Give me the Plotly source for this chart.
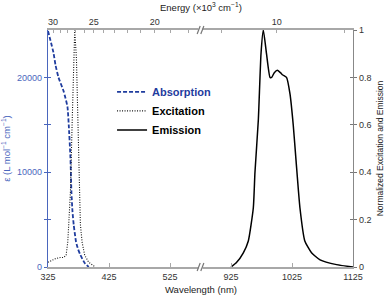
import plotly.graph_objects as go

# ---- data ----
abs_wl = [325, 334, 337.3, 342.2, 350.8, 356.9, 359, 361.8, 363.4, 365.2, 367.2, 371, 374.5, 378.1, 385.1, 391.7]
abs_eps = [24900, 22600, 21300, 20000, 18500, 16900, 15000, 11500, 7900, 5800, 4430, 2640, 1850, 1270, 420, 0]

exc_wl = [325, 337, 345, 350.8, 354.7, 357.4, 359, 361.8, 364.5, 367.2, 368.8, 371.6, 374.3, 376.5, 378.1, 380.9, 385.1, 391.7, 402.6]
exc_val = [0.02, 0.035, 0.04, 0.04, 0.05, 0.105, 0.18, 0.32, 0.60, 0.88, 1.0, 0.88, 0.60, 0.32, 0.18, 0.105, 0.05, 0.02, 0.0]

em_wl = [925, 934.3, 945.2, 953.4, 961.6, 964.3, 969.8, 974.2, 978, 983.2, 989, 991.7, 996, 1000.9, 1006, 1010, 1016, 1021.7, 1027, 1031.6, 1038, 1046, 1057, 1071, 1098, 1125]
em_val = [0.0, 0.02, 0.06, 0.11, 0.25, 0.40, 0.62, 0.90, 1.0, 0.90, 0.80, 0.80, 0.82, 0.83, 0.82, 0.81, 0.80, 0.73, 0.60, 0.45, 0.25, 0.11, 0.06, 0.03, 0.01, 0.0]

energy_left = list(range(30, 17, -1))   # x10^3 cm^-1
energy_right = [11, 10, 9]
energy_labels = {30: "30", 25: "25", 20: "20", 10: "10"}

wl_ticks_left = [325, 425, 525]
wl_ticks_right = [925, 1025, 1125]
eps_ticks = [0, 5000, 10000, 15000, 20000]
eps_labels = ["0", "", "10000", "", "20000"]
norm_ticks = [0, 0.2, 0.4, 0.6, 0.8, 1.0]
norm_labels = ["0", "0.2", "0.4", "0.6", "0.8", "1"]

BLUE = "#1f3c9e"
AXBLUE = "#4a66bd"
GRAY = "#a8a8a8"
FONT = "Arial, Liberation Sans, sans-serif"

fig = go.Figure()
fig.add_trace(go.Scatter(x=abs_wl, y=abs_eps, mode="lines", xaxis="x", yaxis="y",
                         line=dict(color=BLUE, width=1.8, dash="4px,2px", shape="spline", smoothing=0.5),
                         name="<b><span style='color:%s'>Absorption</span></b>" % BLUE))
fig.add_trace(go.Scatter(x=exc_wl, y=exc_val, mode="lines", xaxis="x", yaxis="y2",
                         line=dict(color="#111111", width=1.1, dash="1px,1.5px"),
                         name="<b>Excitation</b>"))
fig.add_trace(go.Scatter(x=em_wl, y=em_val, mode="lines", xaxis="x2", yaxis="y2",
                         line=dict(color="black", width=1.5, shape="spline", smoothing=0.5),
                         name="<b>Emission</b>"))

# invisible traces so that every base/overlay subplot exists
for xa, ya in (("x2", "y"), ("x", "y3"), ("x2", "y4"), ("x3", "y"), ("x4", "y")):
    fig.add_trace(go.Scatter(x=[None], y=[None], xaxis=xa, yaxis=ya,
                             showlegend=False, hoverinfo="skip"))

tick_font = dict(family=FONT, size=9, color="#333333")

def etick(E):
    return 1e7 / (E * 1000)

fig.update_layout(
    width=388, height=299,
    margin=dict(l=48, r=35, t=30, b=32, autoexpand=False),
    paper_bgcolor="white", plot_bgcolor="white",
    font=dict(family=FONT, size=9, color="#222222"),
    showlegend=True,
    legend=dict(x=0.21, y=0.80, xanchor="left", yanchor="top",
                font=dict(family=FONT, size=11, color="black"),
                bgcolor="rgba(0,0,0,0)", tracegroupgap=0),
    xaxis=dict(domain=[0, 0.5], range=[325, 575], anchor="y", automargin=False,
               tickvals=wl_ticks_left, ticks="inside", ticklen=4, tickcolor=GRAY,
               showline=True, linecolor=GRAY, linewidth=1.6, showgrid=False, zeroline=False,
               tickfont=tick_font),
    xaxis2=dict(domain=[0.5, 1], range=[875, 1125], anchor="y", automargin=False,
                tickvals=wl_ticks_right, ticks="inside", ticklen=4, tickcolor=GRAY,
                showline=True, linecolor=GRAY, linewidth=1.6, showgrid=False, zeroline=False,
                tickfont=tick_font),
    xaxis3=dict(overlaying="x", side="top", range=[325, 575], anchor="y", automargin=False,
                tickvals=[etick(E) for E in energy_left],
                ticktext=[energy_labels.get(E, "") for E in energy_left],
                ticks="inside", ticklen=3, tickcolor=GRAY,
                showline=True, linecolor=GRAY, linewidth=1.6, showgrid=False, zeroline=False,
                tickfont=tick_font),
    xaxis4=dict(overlaying="x2", side="top", range=[875, 1125], anchor="y", automargin=False,
                tickvals=[etick(E) for E in energy_right],
                ticktext=[energy_labels.get(E, "") for E in energy_right],
                ticks="inside", ticklen=3, tickcolor=GRAY,
                showline=True, linecolor=GRAY, linewidth=1.6, showgrid=False, zeroline=False,
                tickfont=tick_font),
    yaxis=dict(range=[0, 25000], anchor="x", side="left", automargin=False,
               tickvals=eps_ticks, ticktext=eps_labels,
               ticks="outside", ticklen=3, tickcolor=AXBLUE,
               showline=True, linecolor=AXBLUE, linewidth=1.2, showgrid=False, zeroline=False,
               tickfont=dict(family=FONT, size=9, color=AXBLUE),
               title=dict(text="ε (L mol<sup>−1</sup> cm<sup>−1</sup>)",
                          font=dict(family=FONT, size=9.5, color=AXBLUE), standoff=6)),
    yaxis3=dict(range=[0, 25000], anchor="x", overlaying="y", side="left", automargin=False,
                tickvals=eps_ticks, ticks="inside", ticklen=3, tickcolor=AXBLUE,
                showticklabels=False, showline=False, showgrid=False, zeroline=False),
    yaxis2=dict(range=[0, 1], anchor="x2", overlaying="y", side="right", automargin=False,
                tickvals=norm_ticks, ticktext=norm_labels,
                ticks="outside", ticklen=3, tickcolor="#777777",
                showline=True, linecolor="#888888", linewidth=1.2, showgrid=False, zeroline=False,
                tickfont=tick_font,
                title=dict(text="Normalized Excitation and Emission",
                           font=dict(family=FONT, size=8.5, color="#222222"), standoff=6)),
    yaxis4=dict(range=[0, 1], anchor="x2", overlaying="y", side="right", automargin=False,
                tickvals=norm_ticks, ticks="inside", ticklen=3, tickcolor="#777777",
                showticklabels=False, showline=False, showgrid=False, zeroline=False),
)

# axis titles
fig.add_annotation(text="Wavelength (nm)", x=0.5, y=-0.097, xref="paper", yref="paper",
                   xanchor="center", yanchor="middle", showarrow=False,
                   font=dict(family=FONT, size=9.5, color="#222222"))
fig.add_annotation(text="Energy (×10<sup>3</sup> cm<sup>−1</sup>)", x=0.5, y=1.097, xref="paper", yref="paper",
                   xanchor="center", yanchor="middle", showarrow=False,
                   font=dict(family=FONT, size=9.5, color="#222222"))

# axis break marks
for yy in (0.0, 1.0):
    fig.add_shape(type="rect", x0=0.493, x1=0.507, y0=yy - 0.008, y1=yy + 0.008,
                  xref="paper", yref="paper", line=dict(width=0), fillcolor="white")
    for dx in (-0.006, 0.006):
        fig.add_shape(type="line", x0=0.5 + dx - 0.005, x1=0.5 + dx + 0.005,
                      y0=yy - 0.017, y1=yy + 0.017, xref="paper", yref="paper",
                      line=dict(color="#777777", width=1.2))

fig.write_html("out.html", config={"displayModeBar": False},
               post_script="document.body.style.margin='0';")
